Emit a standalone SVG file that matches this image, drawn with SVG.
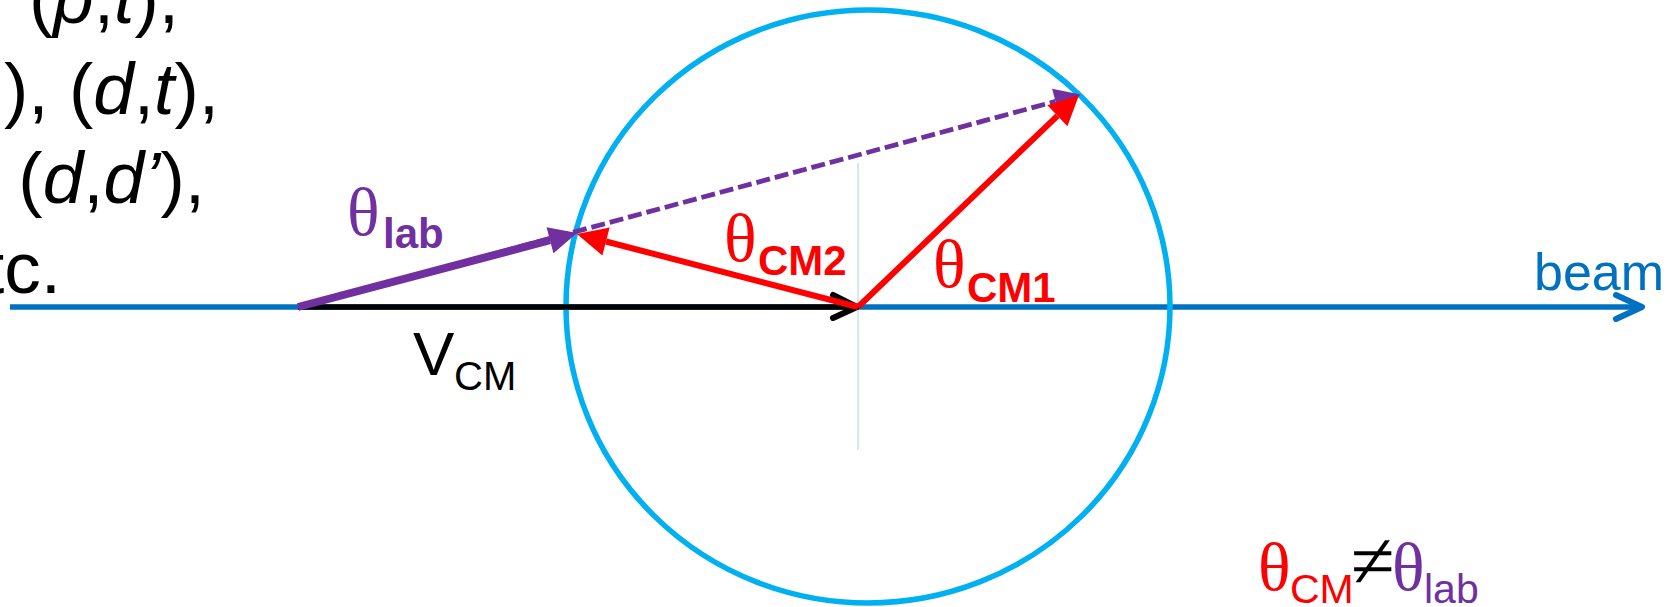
<svg xmlns="http://www.w3.org/2000/svg" width="1676" height="607" viewBox="0 0 1676 607">
<style>
.sans{font-family:"Liberation Sans",Arial,sans-serif}
.serif{font-family:"Liberation Serif","Times New Roman",serif}
.big{font-size:73px;fill:#000}
.th{font-family:"Liberation Serif","Times New Roman",serif;font-size:68px}
.sub{font-family:"Liberation Sans",Arial,sans-serif;font-size:42px;font-weight:bold}
.subr{font-family:"Liberation Sans",Arial,sans-serif;font-size:41px}
.red{fill:#FF0000}
.pur{fill:#7030A0}
.chev{fill:none;stroke-width:6;stroke-linecap:round;stroke-linejoin:round}
</style>
<defs>
<marker id="headRed" markerUnits="userSpaceOnUse" markerWidth="32" markerHeight="30" refX="0" refY="14.5" orient="auto" overflow="visible">
<path d="M0,0 L30,14.5 L0,29 z" fill="#FF0000"/>
</marker>
<marker id="headPurple" markerUnits="userSpaceOnUse" markerWidth="30" markerHeight="28" refX="0" refY="13.5" orient="auto" overflow="visible">
<path d="M0,0 L28,13.5 L0,27 z" fill="#7030A0"/>
</marker>
<marker id="headPurpleD" markerUnits="userSpaceOnUse" markerWidth="28" markerHeight="28" refX="0" refY="13" orient="auto" overflow="visible">
<path d="M0,0 L26,13 L0,26 z" fill="#7030A0"/>
</marker>
</defs>

<g id="text-left" class="sans big">
<text x="179" y="23" text-anchor="end">(<tspan font-style="italic">p</tspan>,<tspan font-style="italic">t</tspan>),</text>
<text x="219" y="114" text-anchor="end">), (<tspan font-style="italic">d</tspan>,<tspan font-style="italic">t</tspan>),</text>
<text x="205" y="203" text-anchor="end">(<tspan font-style="italic">d</tspan>,<tspan font-style="italic">d’</tspan>),</text>
<text x="61" y="293" text-anchor="end">tc.</text>
</g>

<g id="guide">
<line x1="858" y1="163" x2="858" y2="450" stroke="#C5E0EA" stroke-width="1.5"/>
</g>

<g id="connectors">
<g id="beam-arrow">
<line x1="10" y1="307" x2="1640" y2="307" stroke="#0070C0" stroke-width="5.5"/>
<polyline class="chev" points="1616,295 1642,307 1616,319" stroke="#0070C0"/>
</g>
<g id="circle">
<ellipse cx="868" cy="306.5" rx="302" ry="296.5" fill="none" stroke="#00B0F0" stroke-width="5.5"/>
</g>
<g id="vcm-arrow">
<line x1="298" y1="307" x2="856" y2="307" stroke="#000" stroke-width="5.5"/>
<polyline class="chev" points="833,295 857,307 833,318" stroke="#000"/>
</g>
<g id="lab-dashed">
<line x1="298" y1="307" x2="1055.5" y2="101.4" stroke="#7030A0" stroke-width="4.8" stroke-dasharray="14 5" marker-end="url(#headPurpleD)"/>
</g>
<g id="lab-solid">
<line x1="298" y1="307" x2="550" y2="240.2" stroke="#7030A0" stroke-width="8" marker-end="url(#headPurple)"/>
</g>
<g id="cm1-arrow">
<line x1="858" y1="307" x2="1057.4" y2="115.8" stroke="#FF0000" stroke-width="6" marker-end="url(#headRed)"/>
</g>
<g id="cm2-arrow">
<line x1="858" y1="307" x2="606" y2="241.5" stroke="#FF0000" stroke-width="6" marker-end="url(#headRed)"/>
</g>
</g>

<g id="label-lab">
<text x="347" y="235" class="th pur">θ</text>
<text x="383" y="248" class="sub pur">lab</text>
</g>
<g id="label-cm2">
<text x="724" y="261" class="th red">θ</text>
<text x="758" y="275" class="sub red">CM2</text>
</g>
<g id="label-cm1">
<text x="933" y="287" class="th red">θ</text>
<text x="967" y="302" class="sub red">CM1</text>
</g>
<g id="label-vcm" class="sans">
<text x="413" y="375" font-size="62">V</text>
<text x="454" y="390" font-size="40">CM</text>
</g>
<g id="label-beam">
<text x="1534" y="290" class="sans" font-size="52" fill="#0070C0">beam</text>
</g>
<g id="label-neq">
<text x="1258" y="590" class="th red">θ</text>
<text x="1290" y="603" class="subr red">CM</text>
<text x="1373" y="588" class="serif" font-size="80" text-anchor="middle" fill="#000">≠</text>
<text x="1392" y="590" class="th pur">θ</text>
<text x="1424" y="603" class="subr pur">lab</text>
</g>
</svg>
